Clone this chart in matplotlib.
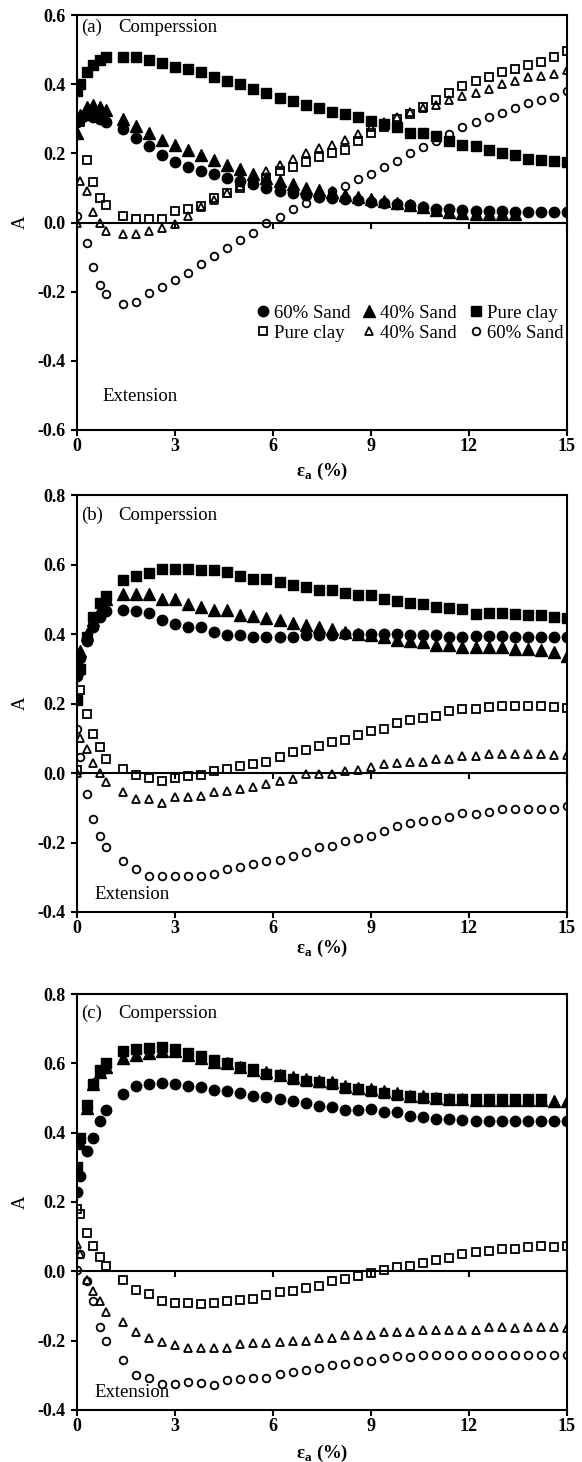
import numpy as np
import matplotlib
matplotlib.use("Agg")
import matplotlib.pyplot as plt
from matplotlib.lines import Line2D
from matplotlib.ticker import FormatStrFormatter

plt.rcParams.update({
    "font.family": ["Liberation Serif", "DejaVu Serif"],
    "font.size": 13.5,
    "axes.unicode_minus": False,
    "axes.linewidth": 1.5,
    "xtick.major.width": 1.5,
    "ytick.major.width": 1.5,
    "xtick.major.size": 4.5,
    "ytick.major.size": 4.5,
    "xtick.major.pad": 1.5,
    "ytick.major.pad": 4,
    "xtick.direction": "out",
    "ytick.direction": "out",
})

nan = np.nan

# axial strain (%)
strain = [0.0, 0.1, 0.3, 0.5, 0.7, 0.9,
          1.4, 1.8, 2.2, 2.6, 3.0, 3.4, 3.8, 4.2, 4.6, 5.0,
          5.4, 5.8, 6.2, 6.6, 7.0, 7.4, 7.8, 8.2, 8.6, 9.0,
          9.4, 9.8, 10.2, 10.6, 11.0, 11.4, 11.8, 12.2, 12.6, 13.0,
          13.4, 13.8, 14.2, 14.6, 15.0]

# ---- panel (a) ----
a_sand60_comp = [0.29, 0.30, 0.31, 0.305, 0.30, 0.29,
                 0.27, 0.245, 0.22, 0.195, 0.175, 0.16, 0.15, 0.14, 0.13, 0.12,
                 0.11, 0.10, 0.09, 0.085, 0.08, 0.075, 0.07, 0.068, 0.065, 0.06,
                 0.057, 0.054, 0.05, 0.045, 0.04, 0.038, 0.035, 0.033, 0.032, 0.032,
                 0.031, 0.031, 0.03, 0.03, 0.03]
a_sand40_comp = [0.26, 0.31, 0.335, 0.34, 0.335, 0.325,
                 0.30, 0.28, 0.26, 0.24, 0.225, 0.21, 0.195, 0.18, 0.165, 0.155,
                 0.14, 0.13, 0.12, 0.11, 0.10, 0.095, 0.088, 0.08, 0.073, 0.067,
                 0.062, 0.057, 0.052, 0.045, 0.035, 0.03, 0.027, 0.025, 0.025, 0.025,
                 0.025, nan, nan, nan, nan]
a_clay_comp = [0.38, 0.40, 0.435, 0.455, 0.47, 0.48,
               0.48, 0.48, 0.47, 0.46, 0.45, 0.445, 0.435, 0.42, 0.41, 0.40,
               0.385, 0.375, 0.36, 0.35, 0.34, 0.33, 0.32, 0.315, 0.305, 0.295,
               0.285, 0.275, 0.26, 0.26, 0.25, 0.235, 0.225, 0.22, 0.21, 0.20,
               0.195, 0.185, 0.18, 0.178, 0.175]
a_clay_ext = [0.40, 0.29, 0.18, 0.118, 0.07, 0.051,
              0.019, 0.01, 0.01, 0.01, 0.032, 0.039, 0.048, 0.07, 0.084, 0.10,
              0.115, 0.13, 0.15, 0.16, 0.175, 0.19, 0.20, 0.21, 0.235, 0.26,
              0.275, 0.30, 0.315, 0.335, 0.355, 0.375, 0.395, 0.41, 0.42, 0.435,
              0.445, 0.455, 0.465, 0.48, 0.495]
a_sand40_ext = [0.0, 0.12, 0.09, 0.03, 0.0, -0.024,
                -0.034, -0.034, -0.024, -0.015, -0.003, 0.02, 0.045, 0.065, 0.085, 0.105,
                0.13, 0.15, 0.165, 0.185, 0.20, 0.215, 0.225, 0.24, 0.255, 0.275,
                0.29, 0.305, 0.32, 0.33, 0.34, 0.355, 0.365, 0.375, 0.385, 0.40,
                0.41, 0.42, 0.425, 0.43, 0.44]
a_sand60_ext = [0.02, nan, -0.058, -0.128, -0.18, -0.207,
                -0.236, -0.23, -0.205, -0.187, -0.166, -0.145, -0.121, -0.097, -0.075, -0.052,
                -0.03, 0.0, 0.015, 0.04, 0.055, 0.07, 0.09, 0.105, 0.125, 0.14,
                0.16, 0.178, 0.2, 0.218, 0.236, 0.255, 0.275, 0.292, 0.305, 0.318,
                0.332, 0.345, 0.355, 0.364, 0.38]

# ---- panel (b) ----
b_sand60_comp = [0.28, 0.33, 0.38, 0.42, 0.45, 0.465,
                 0.468, 0.466, 0.46, 0.44, 0.43, 0.42, 0.42, 0.406, 0.398, 0.398,
                 0.391, 0.391, 0.391, 0.391, 0.396, 0.396, 0.396, 0.399, 0.401, 0.401,
                 0.399, 0.399, 0.396, 0.396, 0.396, 0.391, 0.391, 0.393, 0.393, 0.393,
                 0.391, 0.391, 0.391, 0.391, 0.391]
b_sand40_comp = [0.30, 0.35, 0.40, 0.44, 0.47, 0.50,
                 0.516, 0.516, 0.516, 0.50, 0.50, 0.487, 0.478, 0.468, 0.468, 0.454,
                 0.451, 0.447, 0.44, 0.432, 0.425, 0.42, 0.415, 0.406, 0.401, 0.396,
                 0.391, 0.384, 0.379, 0.377, 0.367, 0.367, 0.362, 0.362, 0.362, 0.362,
                 0.358, 0.358, 0.353, 0.348, 0.338]
b_clay_comp = [0.21, 0.30, 0.39, 0.45, 0.49, 0.51,
               0.555, 0.567, 0.576, 0.586, 0.586, 0.586, 0.584, 0.584, 0.579, 0.566,
               0.557, 0.557, 0.55, 0.54, 0.535, 0.528, 0.526, 0.518, 0.512, 0.512,
               0.50, 0.495, 0.488, 0.486, 0.478, 0.476, 0.473, 0.459, 0.46, 0.46,
               0.457, 0.456, 0.454, 0.449, 0.446]
b_clay_ext = [0.01, 0.24, 0.17, 0.113, 0.074, 0.04,
              0.012, -0.005, -0.013, -0.024, -0.013, -0.01, -0.005, 0.005, 0.012, 0.019,
              0.026, 0.031, 0.047, 0.06, 0.066, 0.079, 0.088, 0.095, 0.11, 0.12,
              0.127, 0.143, 0.153, 0.159, 0.165, 0.178, 0.185, 0.185, 0.19, 0.192,
              0.192, 0.192, 0.192, 0.191, 0.188]
b_sand40_ext = [0.0, 0.10, 0.07, 0.03, 0.0, -0.025,
                -0.056, -0.075, -0.075, -0.085, -0.07, -0.07, -0.065, -0.056, -0.051, -0.046,
                -0.041, -0.032, -0.022, -0.017, -0.003, -0.003, -0.003, 0.005, 0.009, 0.016,
                0.026, 0.028, 0.031, 0.031, 0.04, 0.04, 0.05, 0.05, 0.055, 0.055,
                0.055, 0.055, 0.055, 0.053, 0.053]
b_sand60_ext = [0.127, 0.045, -0.061, -0.133, -0.18, -0.214,
                -0.253, -0.277, -0.296, -0.296, -0.296, -0.296, -0.296, -0.29, -0.277, -0.27,
                -0.262, -0.253, -0.251, -0.238, -0.226, -0.214, -0.21, -0.195, -0.186, -0.181,
                -0.168, -0.152, -0.145, -0.138, -0.136, -0.126, -0.116, -0.118, -0.113, -0.104,
                -0.104, -0.104, -0.104, -0.104, -0.094]

# ---- panel (c) ----
c_sand60_comp = [0.23, 0.275, 0.348, 0.386, 0.435, 0.464,
                 0.512, 0.536, 0.541, 0.543, 0.541, 0.536, 0.531, 0.524, 0.52, 0.514,
                 0.507, 0.504, 0.498, 0.491, 0.485, 0.478, 0.475, 0.464, 0.466, 0.469,
                 0.459, 0.459, 0.449, 0.444, 0.438, 0.44, 0.437, 0.433, 0.433, 0.433,
                 0.433, 0.433, 0.433, 0.433, 0.433]
c_sand40_comp = [0.28, 0.37, 0.47, 0.54, 0.575, 0.59,
                 0.615, 0.625, 0.63, 0.635, 0.635, 0.625, 0.615, 0.605, 0.60, 0.59,
                 0.58, 0.575, 0.565, 0.56, 0.555, 0.548, 0.545, 0.535, 0.53, 0.525,
                 0.52, 0.515, 0.505, 0.505, 0.50, 0.498, 0.496, 0.495, 0.495, 0.495,
                 0.495, 0.495, 0.494, 0.492, 0.49]
c_clay_comp = [0.30, 0.385, 0.48, 0.54, 0.58, 0.60,
               0.635, 0.64, 0.645, 0.648, 0.64, 0.63, 0.62, 0.61, 0.60, 0.59,
               0.585, 0.57, 0.565, 0.555, 0.55, 0.545, 0.54, 0.53, 0.525, 0.52,
               0.515, 0.51, 0.505, 0.50, 0.50, 0.498, 0.498, 0.497, 0.497, 0.497,
               0.497, 0.497, 0.497, nan, nan]
c_clay_ext = [0.18, 0.164, 0.11, 0.072, 0.042, 0.014,
              -0.024, -0.053, -0.066, -0.087, -0.092, -0.092, -0.095, -0.092, -0.085, -0.082,
              -0.079, -0.068, -0.061, -0.056, -0.048, -0.041, -0.029, -0.021, -0.014, -0.005,
              0.005, 0.012, 0.014, 0.024, 0.034, 0.039, 0.05, 0.055, 0.058, 0.063,
              0.063, 0.07, 0.072, 0.07, 0.072]
c_sand40_ext = [0.08, 0.05, -0.024, -0.058, -0.087, -0.116,
                -0.145, -0.174, -0.193, -0.203, -0.213, -0.22, -0.22, -0.22, -0.222, -0.21,
                -0.208, -0.208, -0.203, -0.20, -0.20, -0.193, -0.193, -0.184, -0.184, -0.184,
                -0.176, -0.174, -0.176, -0.169, -0.169, -0.169, -0.169, -0.169, -0.162, -0.162,
                -0.164, -0.162, -0.162, -0.162, -0.164]
c_sand60_ext = [0.005, 0.05, -0.029, -0.087, -0.162, -0.20,
                -0.256, -0.30, -0.309, -0.324, -0.324, -0.319, -0.321, -0.327, -0.314, -0.311,
                -0.309, -0.307, -0.297, -0.29, -0.285, -0.28, -0.27, -0.266, -0.259, -0.259,
                -0.249, -0.243, -0.246, -0.242, -0.242, -0.242, -0.242, -0.242, -0.242, -0.242,
                -0.242, -0.242, -0.242, -0.242, -0.242]

series_labels = ["60% Sand", "40% Sand", "Pure clay", "Pure clay", "40% Sand", "60% Sand"]

# marker styles: filled = compression, open = extension
styles = [
    dict(marker="o", ms=7.5, mfc="k", mec="k"),
    dict(marker="^", ms=8, mfc="k", mec="k"),
    dict(marker="s", ms=7, mfc="k", mec="k"),
    dict(marker="s", ms=5.5, mfc="none", mec="k", mew=1.3),
    dict(marker="^", ms=6, mfc="none", mec="k", mew=1.3),
    dict(marker="o", ms=5.5, mfc="none", mec="k", mew=1.3),
]


def draw_panel(ax, data, ylim, tag, ext_pos, xlab_y):
    for vals, st in zip(data, styles):
        ax.plot(strain, vals, linestyle="none", color="k", zorder=3, **st)

    ax.set_xlim(0, 15)
    ax.set_ylim(*ylim)
    ax.set_xticks([0, 3, 6, 9, 12, 15])
    ax.set_yticks(np.arange(ylim[0], ylim[1] + 0.01, 0.2))
    ax.yaxis.set_major_formatter(FormatStrFormatter("%.1f"))
    ax.tick_params(labelsize=13)
    for lab in ax.get_xticklabels() + ax.get_yticklabels():
        lab.set_fontweight("bold")

    # zero line with its own downward ticks
    zero_pos = (0 - ylim[0]) / (ylim[1] - ylim[0])
    zax = ax.secondary_xaxis(zero_pos)
    zax.set_alignment("bottom")
    zax.set_xticks([3, 6, 9, 12, 15])
    zax.tick_params(axis="x", direction="out", length=4.5, width=1.5, labelbottom=False)
    zax.spines["bottom"].set_linewidth(1.5)

    ax.set_ylabel("A", fontsize=13.5)
    ax.yaxis.set_label_coords(-0.098, 0.5)
    ax.set_xlabel("ε$_\\mathregular{a}$ (%)", fontsize=13.5, fontweight="bold")
    ax.xaxis.set_label_coords(0.5, xlab_y)

    ax.text(0.008, tag[1], tag[0], transform=ax.transAxes, va="center", ha="left")
    ax.text(0.084, tag[1], "Comperssion", transform=ax.transAxes, va="center", ha="left")
    ax.text(ext_pos[0], ext_pos[1], "Extension", transform=ax.transAxes, va="center", ha="left")


fig = plt.figure(figsize=(5.82, 14.62), dpi=100)
ax_a = fig.add_axes([0.1323, 0.7059, 0.8419, 0.2838])
ax_b = fig.add_axes([0.1323, 0.3762, 0.8419, 0.2852])
ax_c = fig.add_axes([0.1323, 0.0356, 0.8419, 0.2845])

draw_panel(ax_a, [a_sand60_comp, a_sand40_comp, a_clay_comp, a_clay_ext, a_sand40_ext, a_sand60_ext],
           (-0.6, 0.6), ("(a)", 0.971), (0.051, 0.08), -0.075)
draw_panel(ax_b, [b_sand60_comp, b_sand40_comp, b_clay_comp, b_clay_ext, b_sand40_ext, b_sand60_ext],
           (-0.4, 0.8), ("(b)", 0.952), (0.036, 0.041), -0.062)
draw_panel(ax_c, [c_sand60_comp, c_sand40_comp, c_clay_comp, c_clay_ext, c_sand40_ext, c_sand60_ext],
           (-0.4, 0.8), ("(c)", 0.954), (0.036, 0.042), -0.079)

# legend: two rows of three, filled on top, open below
handles = [Line2D([], [], linestyle="none", color="k", **st) for st in styles]
order = [0, 3, 1, 4, 2, 5]
ax_a.legend([handles[i] for i in order], [series_labels[i] for i in order],
            ncol=3, loc="center", bbox_to_anchor=(0.678, 0.257), frameon=False,
            handlelength=0.8, handletextpad=0.2, columnspacing=0.6,
            labelspacing=0.15, borderpad=0.1, fontsize=13.5)

fig.savefig("out.png", dpi=100)
